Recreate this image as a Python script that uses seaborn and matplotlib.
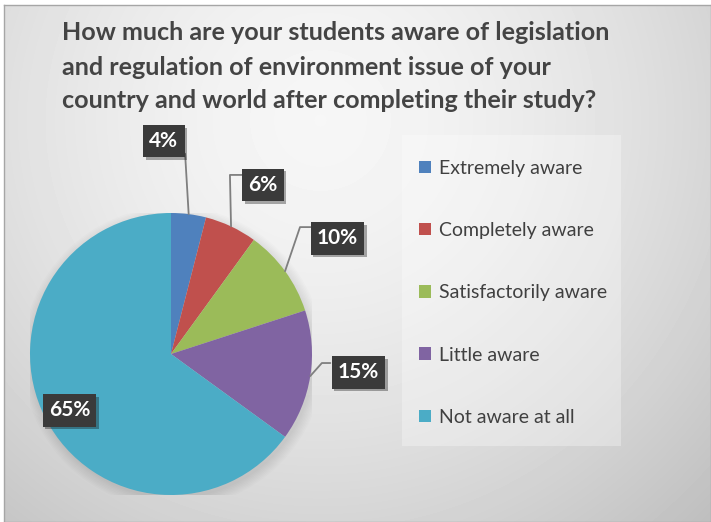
import numpy as np
import matplotlib.pyplot as plt
import matplotlib.patheffects as pe
from matplotlib.patches import Rectangle, Circle
import seaborn as sns

# survey answers
categories = ['Extremely aware', 'Completely aware', 'Satisfactorily aware',
              'Little aware', 'Not aware at all']
shares = [4, 6, 10, 15, 65]
pct_labels = ['4%', '6%', '10%', '15%', '65%']
colors = ['#4F81BD', '#C0504D', '#9BBB59', '#8064A2', '#4BACC6']

title_lines = ['How much are your students aware of legislation',
               'and regulation of environment issue of your',
               'country and world after completing their study?']

sns.set_style('white')
plt.rcParams['font.family'] = ['Lato', 'DejaVu Sans']

W, H = 711, 522
fig = plt.figure(figsize=(W / 100, H / 100), dpi=100)
fig.patch.set_facecolor('white')

# radial grey gradient background of the chart area
bg = fig.add_axes([4 / W, 0, 1 - 4 / W, (H - 5) / H])
yy, xx = np.mgrid[5:H, 4:W]
d = np.clip(np.hypot(xx - 320, yy - 120) / 560, 0, 1)
shade = 0.965 - 0.22 * d ** 1.6
bg.imshow(shade, cmap='gray', vmin=0, vmax=1, aspect='auto', extent=(0, 1, 0, 1))
bg.set_xticks([])
bg.set_yticks([])
for s in bg.spines.values():
    s.set_color('#a6a6a6')
    s.set_linewidth(1)

# title
for line, base in zip(title_lines, [40, 75, 108]):
    fig.text(62 / W, 1 - base / H, line, ha='left', va='baseline',
             fontsize=18.1, fontweight='bold', color='#444444')

# legend box
fig.patches.append(Rectangle((402 / W, 1 - 446 / H), 219 / W, 311 / H,
                             transform=fig.transFigure, fc='white', alpha=0.3,
                             ec='none', zorder=0))

# pie
ax = fig.add_axes([30 / W, (H - 495) / H, 282 / W, 282 / H])
for k in range(8):
    ax.add_patch(Circle((0.015, -0.025), 1 + 0.01 * k, color='black',
                        alpha=0.012, lw=0, zorder=0))
wedges, _ = ax.pie(shares, colors=colors, startangle=90, counterclock=False,
                   radius=1, wedgeprops=dict(linewidth=0))
ax.set_xlim(-1, 1)
ax.set_ylim(-1, 1)
ax.set_aspect('equal')
ax.axis('off')

# label boxes and leader lines
box_pos = [(-0.05, 1.51), (0.65, 1.20), (1.18, 0.82), (1.33, -0.13), (-0.72, -0.40)]
leaders = [[(0.10, 1.42)],
           [(0.418, 1.27), (0.51, 1.27)],
           [(0.915, 0.90), (0.99, 0.90)],
           [(1.07, -0.064), (1.13, -0.064)],
           []]
for w, lab, pos, pts in zip(wedges, pct_labels, box_pos, leaders):
    mid = np.deg2rad((w.theta1 + w.theta2) / 2)
    if pts:
        xs = [np.cos(mid)] + [p[0] for p in pts]
        ys = [np.sin(mid)] + [p[1] for p in pts]
        ax.plot(xs, ys, color='#7f7f7f', lw=1.3, clip_on=False, zorder=3)
    t = ax.text(pos[0], pos[1], lab, ha='center', va='center', color='white',
                fontsize=15, fontweight='bold', zorder=5,
                bbox=dict(boxstyle='square,pad=0.3', fc='#3a3a3a', ec='none'))
    t.get_bbox_patch().set_path_effects([
        pe.SimplePatchShadow(offset=(2, -2), alpha=0.35), pe.Normal()])

# legend
leg = fig.legend(wedges, categories, loc='upper left',
                 bbox_to_anchor=(409 / W, 1 - 150 / H), frameon=False,
                 fontsize=14, labelspacing=2.33, handlelength=0.62,
                 handleheight=0.62, handletextpad=0.42, borderpad=0)
for txt in leg.get_texts():
    txt.set_color('#404040')

fig.savefig('out.png', dpi=100)
